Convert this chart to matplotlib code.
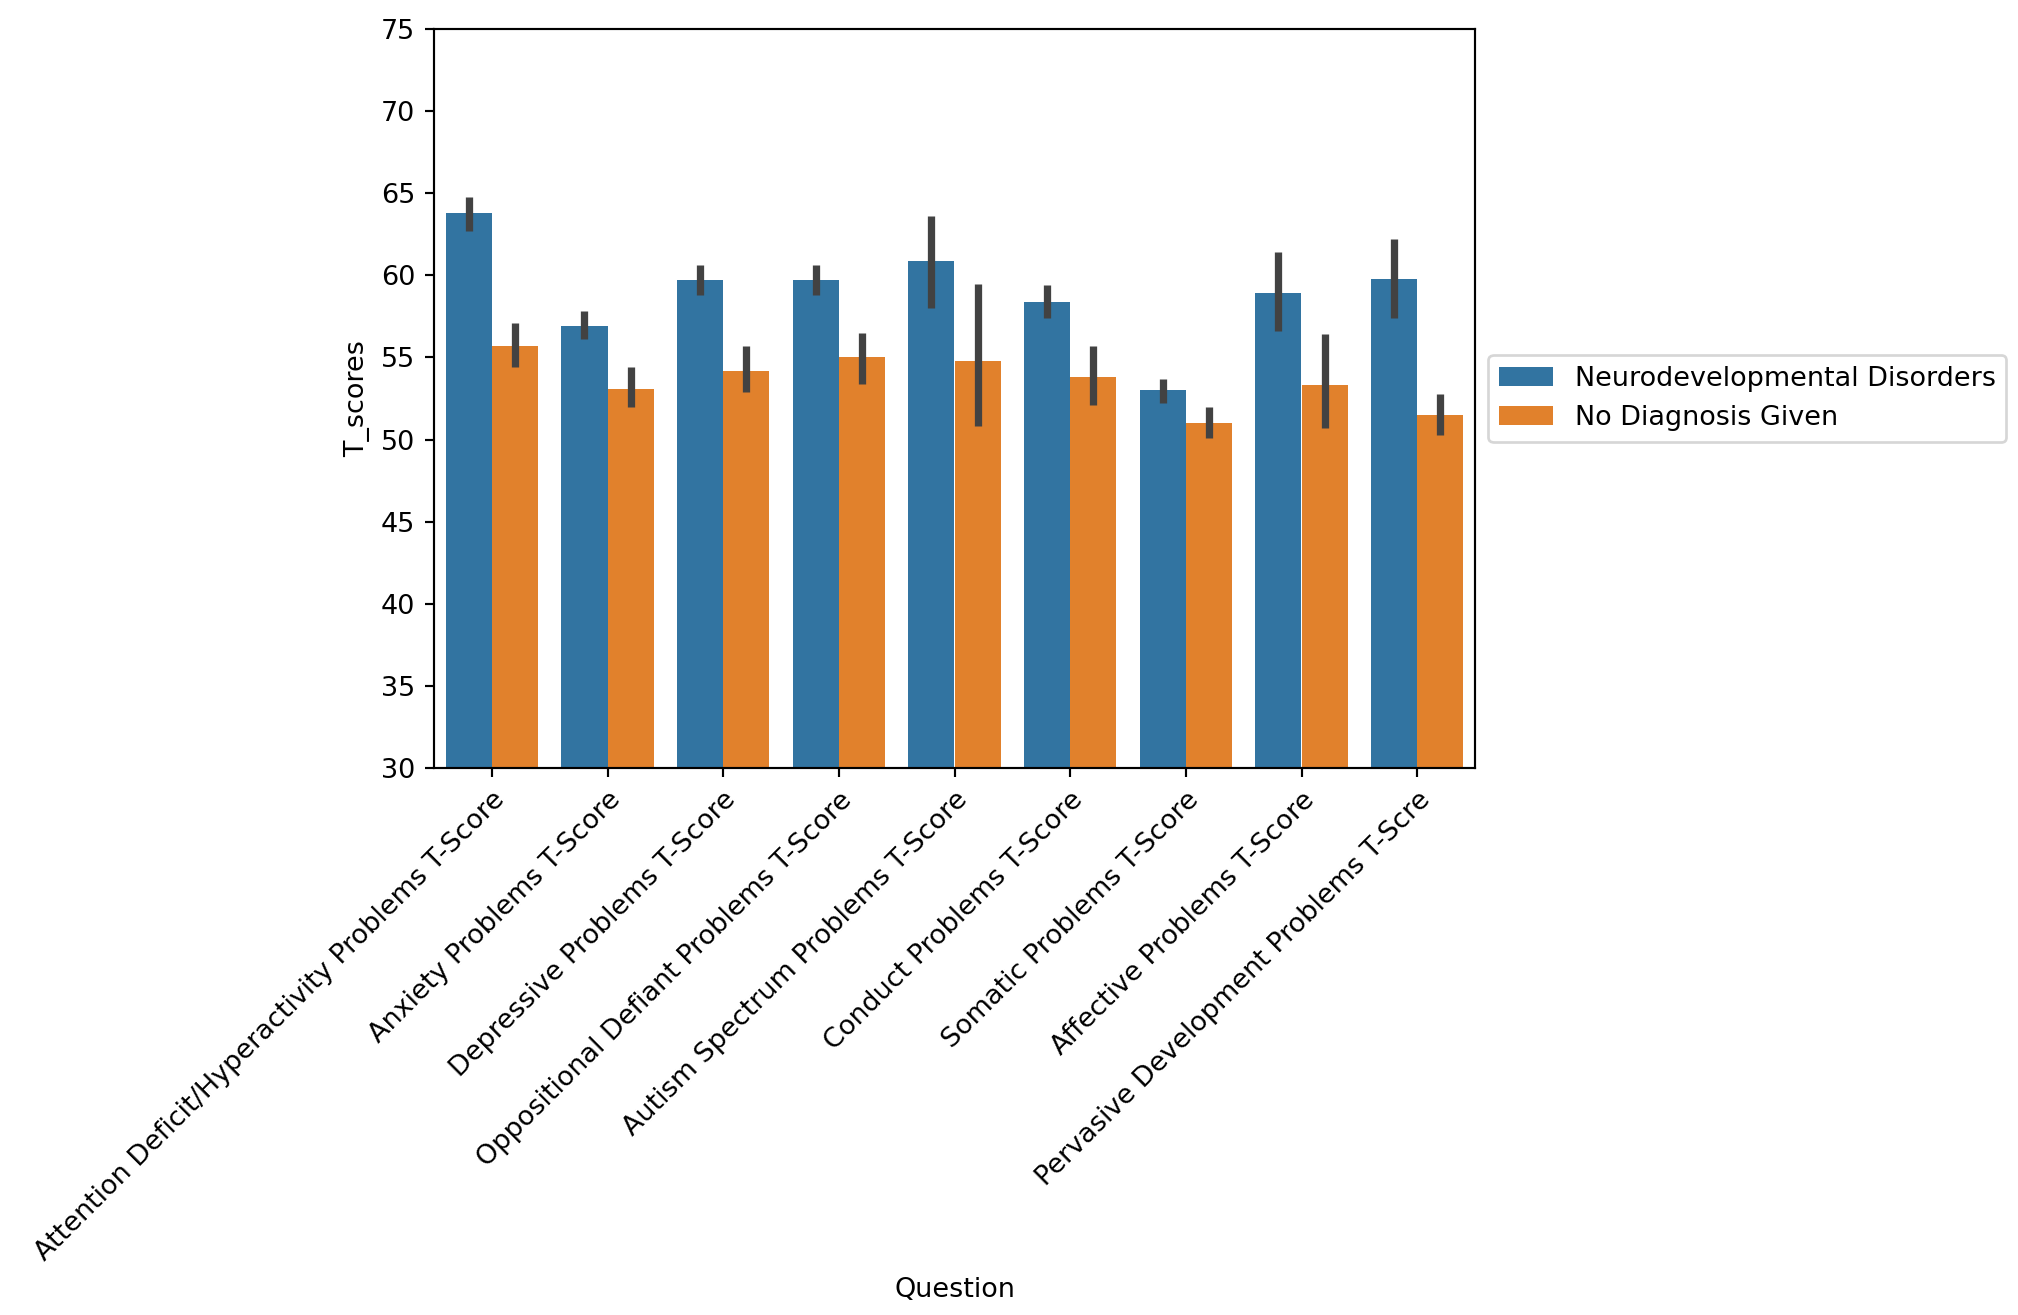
import matplotlib

matplotlib.use("Agg")
import matplotlib.pyplot as plt
import numpy as np

plt.rcParams.update({"font.family": "DejaVu Sans", "font.size": 10})

questions = [
    "Attention Deficit/Hyperactivity Problems T-Score",
    "Anxiety Problems T-Score",
    "Depressive Problems T-Score",
    "Oppositional Defiant Problems T-Score",
    "Autism Spectrum Problems T-Score",
    "Conduct Problems T-Score",
    "Somatic Problems T-Score",
    "Affective Problems T-Score",
    "Pervasive Development Problems T-Scre",
]
groups = ["Neurodevelopmental Disorders", "No Diagnosis Given"]

# bar heights (means) and CI ends
nd_mean = [63.8, 56.9, 59.7, 59.7, 60.9, 58.4, 53.0, 58.9, 59.8]
nd_lo = [62.7, 56.1, 58.8, 58.8, 58.0, 57.4, 52.2, 56.6, 57.4]
nd_hi = [64.8, 57.8, 60.6, 60.6, 63.6, 59.4, 53.7, 61.4, 62.2]
no_mean = [55.7, 53.1, 54.2, 55.0, 54.8, 53.8, 51.0, 53.3, 51.5]
no_lo = [54.4, 52.0, 52.9, 53.4, 50.8, 52.1, 50.1, 50.7, 50.3]
no_hi = [57.1, 54.4, 55.7, 56.5, 59.5, 55.7, 52.0, 56.4, 52.8]

colors = ["#3274a1", "#e1812c"]

dpi = 194
W, H = 2018, 1315
fig = plt.figure(figsize=(W / dpi, H / dpi), dpi=dpi)
# axes box measured on the reference, in pixels
ax = fig.add_axes([434 / W, 1 - 768 / H, (1475 - 434) / W, (768 - 29) / H])

x = np.arange(len(questions))
w = 0.4
series = [(nd_mean, nd_lo, nd_hi), (no_mean, no_lo, no_hi)]
for i, (mean, lo, hi) in enumerate(series):
    xs = x + (i - 0.5) * w
    ax.bar(xs, mean, width=w, color=colors[i], label=groups[i])
    ax.vlines(xs, lo, hi, color="#424242", linewidth=2.7, zorder=3)

ax.set_xlim(-0.5, len(questions) - 0.5)
ax.set_ylim(30, 75)
ax.set_xticks(x)
ax.set_xticklabels(questions, rotation=45, ha="right", rotation_mode="anchor")
ax.set_xlabel("Question")
ax.set_ylabel("T_scores")
ax.legend(loc="center left", bbox_to_anchor=(1, 0.5))

fig.savefig("out.png", dpi=dpi)
